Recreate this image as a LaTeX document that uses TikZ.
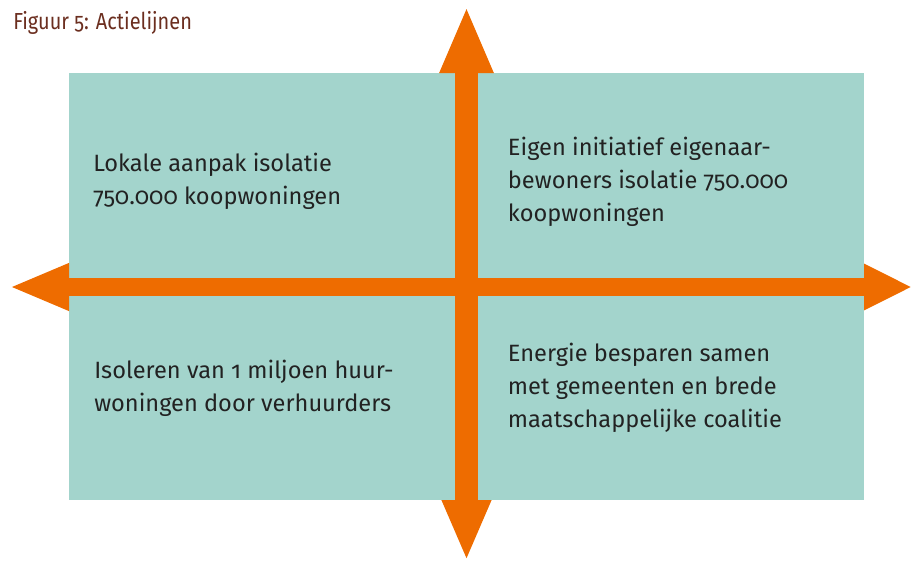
\documentclass[tikz,border=0pt]{standalone}
\usepackage{fontspec}
\setmainfont{Fira Sans}[RawFeature={+onum;+pnum}]
\newfontfamily\titlefont{Fira Sans}[RawFeature={+onum;+pnum},FakeStretch=0.86]
\usetikzlibrary{arrows.meta}
\definecolor{teal}{HTML}{A3D4CC}
\definecolor{arroworange}{HTML}{EE6C00}
\definecolor{titlebrown}{HTML}{6B2E1F}
\definecolor{textdark}{HTML}{222222}
\begin{document}
\begin{tikzpicture}[x=0.75pt,y=-0.75pt,
  quad/.style={fill=teal,draw=none},
  label/.style={anchor=base west,inner sep=0pt,align=left,text=textdark,
    font=\fontsize{17.7pt}{24.4pt}\selectfont},
  axis/.style={draw=arroworange}]
\useasboundingbox (0,0) rectangle (912,561);
\fill[quad] (69,73) rectangle (455,278);
\fill[quad] (478,73) rectangle (864,278);
\fill[quad] (69,296) rectangle (455,500);
\fill[quad] (478,296) rectangle (864,500);
\node[anchor=base west,inner sep=0pt,text=titlebrown,font=\titlefont\fontsize{17.4pt}{19pt}\selectfont] (title) at (13,29) {Figuur 5: Actielijnen};
\coordinate (left) at (9,287);
\coordinate (right) at (912,287);
\coordinate (top) at (466.5,6);
\coordinate (bottom) at (466.5,561);
\coordinate (center) at (466.5,287);
\draw[axis,line width=13.5pt,-{Triangle[length=36pt,width=32.25pt]}] (center) -- (right);
\draw[axis,line width=13.5pt,-{Triangle[length=45pt,width=32.25pt]}] (center) -- (left);
\draw[axis,line width=17.25pt,-{Triangle[length=50.25pt,width=36.75pt]}] (center) -- (top);
\draw[axis,line width=17.25pt,-{Triangle[length=45.75pt,width=33.75pt]}] (center) -- (bottom);
\node[label] (tl) at (93,204) {Lokale aanpak isolatie\\750.000 koopwoningen};
\node[label] (tr) at (507.7,221) {Eigen initiatief eigenaar-\\bewoners isolatie 750.000\\koopwoningen};
\node[label] (bl) at (94,411) {Isoleren van 1 miljoen huur-\\woningen door verhuurders};
\node[label] (br) at (507.7,427) {Energie besparen samen\\met gemeenten en brede\\maatschappelijke coalitie};
\end{tikzpicture}
\end{document}
